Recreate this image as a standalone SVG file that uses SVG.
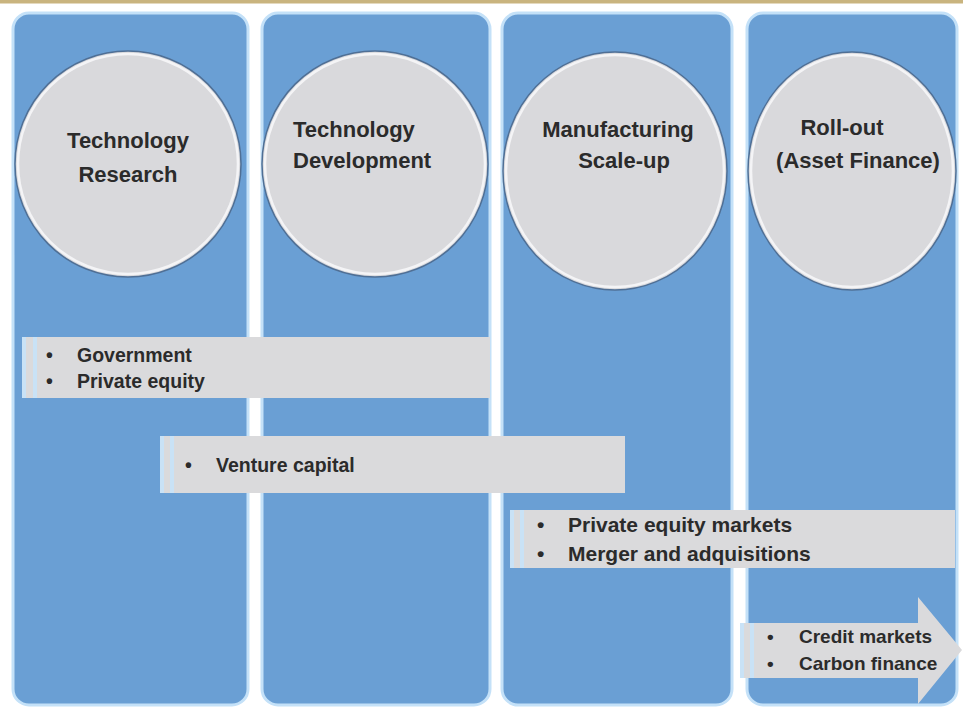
<svg xmlns="http://www.w3.org/2000/svg" width="963" height="711" viewBox="0 0 963 711">
<style>
.col{fill:#6a9fd4;stroke:#c4e1f8;stroke-width:3}
.circ{fill:#d9d9dc;stroke:#4f6f95;stroke-width:1.5}
.circhi{fill:none;stroke:#f4f4f6;stroke-width:2.5}
.bar{fill:#dadadc}
.strp{fill:#c9e2f6}
.t{font-family:"Liberation Sans",Arial,sans-serif;font-weight:bold;fill:#2b2b2b}
.ct{font-size:22px}
.bt{font-size:19.5px}
.bt3{font-size:21px}
.at{font-size:19px}
</style>
<rect x="0" y="0" width="963" height="711" fill="#ffffff"/>
<rect x="0" y="0" width="963" height="3.5" fill="#c9b47e"/>

<g id="col1">
<rect class="col" x="13" y="13" width="235" height="692" rx="16"/>
</g>
<g id="col2">
<rect class="col" x="262" y="13" width="228" height="692" rx="16"/>
</g>
<g id="col3">
<rect class="col" x="502" y="13" width="230" height="692" rx="16"/>
</g>
<g id="col4">
<rect class="col" x="747" y="13" width="210" height="692" rx="16"/>
</g>

<g id="circle1">
<ellipse class="circ" cx="128" cy="164" rx="113" ry="113"/>
<ellipse class="circhi" cx="128" cy="164" rx="110" ry="110"/>
<text class="t ct" x="128" y="148" text-anchor="middle">Technology</text>
<text class="t ct" x="128" y="182" text-anchor="middle">Research</text>
</g>
<g id="circle2">
<ellipse class="circ" cx="375" cy="164" rx="113" ry="113"/>
<ellipse class="circhi" cx="375" cy="164" rx="110" ry="110"/>
<text class="t ct" x="293" y="137">Technology</text>
<text class="t ct" x="293" y="168">Development</text>
</g>
<g id="circle3">
<ellipse class="circ" cx="615" cy="171" rx="112" ry="119"/>
<ellipse class="circhi" cx="615" cy="171" rx="109" ry="116"/>
<text class="t ct" x="618" y="137" text-anchor="middle">Manufacturing</text>
<text class="t ct" x="624" y="168" text-anchor="middle">Scale-up</text>
</g>
<g id="circle4">
<ellipse class="circ" cx="852" cy="171" rx="104" ry="119"/>
<ellipse class="circhi" cx="852" cy="171" rx="101" ry="116"/>
<text class="t ct" x="842" y="135" text-anchor="middle">Roll-out</text>
<text class="t ct" x="858" y="168" text-anchor="middle">(Asset Finance)</text>
</g>

<g id="bar1">
<rect class="strp" x="22" y="337" width="4" height="61"/>
<rect class="bar" x="26" y="337" width="7" height="61"/>
<rect class="strp" x="33" y="337" width="4" height="61"/>
<rect class="bar" x="37" y="337" width="453" height="61"/>
<text class="t bt" x="46" y="362">•</text>
<text class="t bt" x="77" y="362">Government</text>
<text class="t bt" x="46" y="388">•</text>
<text class="t bt" x="77" y="388">Private equity</text>
</g>
<g id="bar2">
<rect class="strp" x="160" y="436" width="4" height="57"/>
<rect class="bar" x="164" y="436" width="6" height="57"/>
<rect class="strp" x="170" y="436" width="4" height="57"/>
<rect class="bar" x="174" y="436" width="451" height="57"/>
<text class="t bt" x="185" y="472">•</text>
<text class="t bt" x="216" y="472">Venture capital</text>
</g>
<g id="bar3">
<rect class="strp" x="510" y="510" width="4" height="58"/>
<rect class="bar" x="514" y="510" width="6" height="58"/>
<rect class="strp" x="520" y="510" width="4" height="58"/>
<rect class="bar" x="524" y="510" width="431" height="58"/>
<text class="t bt3" x="537" y="532">•</text>
<text class="t bt3" x="568" y="532">Private equity markets</text>
<text class="t bt3" x="537" y="561">•</text>
<text class="t bt3" x="568" y="561">Merger and adquisitions</text>
</g>
<g id="arrow">
<rect class="strp" x="740" y="623" width="4" height="55"/>
<rect class="bar" x="744" y="623" width="6" height="55"/>
<rect class="strp" x="750" y="623" width="4" height="55"/>
<polygon class="bar" points="754,623 918,623 918,597 962,650 918,704 918,678 754,678"/>
<text class="t at" x="767" y="643">•</text>
<text class="t at" x="799" y="643">Credit markets</text>
<text class="t at" x="767" y="670">•</text>
<text class="t at" x="799" y="670">Carbon finance</text>
</g>
</svg>
